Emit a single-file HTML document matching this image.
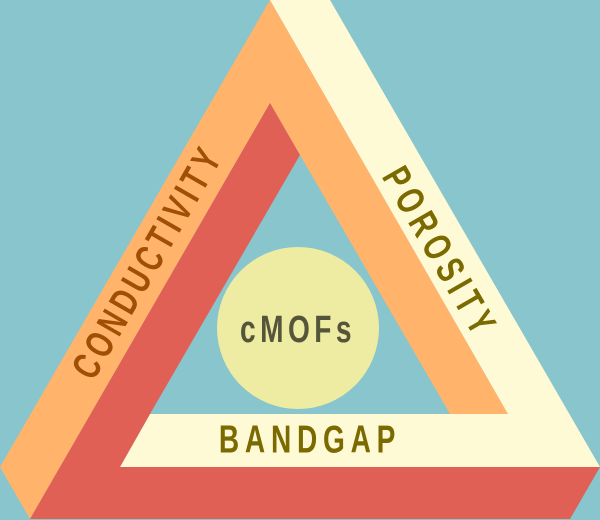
<!DOCTYPE html>
<html><head><meta charset="utf-8"><style>
html,body{margin:0;padding:0;background:#88c5cc;}
svg{display:block;}
text{font-family:"Liberation Sans",sans-serif;font-weight:bold;}
</style></head><body>
<svg width="600" height="520" viewBox="0 0 600 520" xmlns="http://www.w3.org/2000/svg">
<rect width="600" height="520" fill="#88c5cc"/>
<polygon points="270,0 508,414 450,414 300,155 270,103 30,519 0,467" fill="#ffb36b"/>
<polygon points="270,0 330,0 600,467 120,467 150,414 508,414" fill="#fffad6"/>
<polygon points="270,103 300,155 150,414 120,467 600,467 570,519 30,519" fill="#e06055"/>
<circle cx="298" cy="328" r="81" fill="#eeeba3"/>
<text x="0" y="0" transform="translate(148,262) rotate(-60) scale(0.72,1)" text-anchor="middle" dominant-baseline="central" font-size="39" letter-spacing="6" fill="#a04f05">CONDUCTIVITY</text>
<text x="0" y="0" transform="translate(440,253) rotate(60) scale(0.72,1)" text-anchor="middle" dominant-baseline="central" font-size="39" letter-spacing="8" fill="#7a6a00">POROSITY</text>
<text x="0" y="0" transform="translate(310,440) scale(0.72,1)" text-anchor="middle" dominant-baseline="central" font-size="39" letter-spacing="8" fill="#7a6a00">BANDGAP</text>
<text x="0" y="0" transform="translate(298,330) scale(0.74,1)" text-anchor="middle" dominant-baseline="central" font-size="38" letter-spacing="6" fill="#55553a">cMOFs</text>
</svg>
</body></html>
